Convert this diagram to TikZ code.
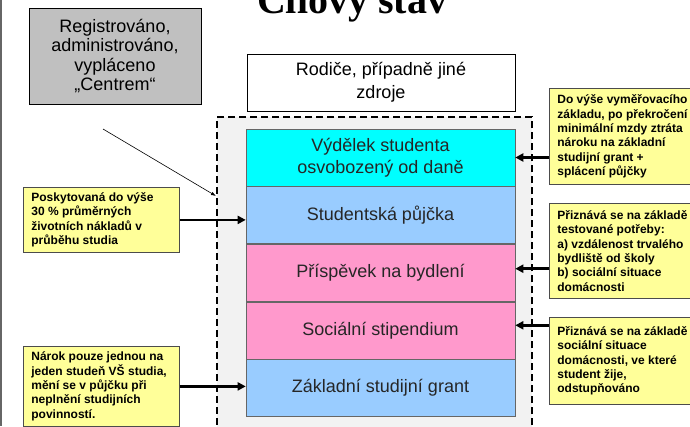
\documentclass[tikz,border=0pt]{standalone}
\usepackage{fontspec}
\setmainfont{Liberation Sans}
\newfontfamily\nadpisfont{Liberation Serif}
\usetikzlibrary{positioning,arrows.meta,calc}
\definecolor{seda}{HTML}{C0C0C0}
\definecolor{tyrkys}{HTML}{00FFFF}
\definecolor{modra}{HTML}{99CCFF}
\definecolor{ruzova}{HTML}{FF99CC}
\definecolor{zluta}{HTML}{FFFF99}

\begin{document}
\begin{tikzpicture}[x=1pt,y=-1pt]
\tikzstyle{rada}=[draw=black!60, line width=0.6pt, minimum width=269pt, minimum height=57pt, inner sep=0pt, align=center, text=black!85, font=\fontsize{18}{22}\selectfont]
\tikzstyle{poznamka}=[draw=black!70, fill=zluta, line width=0.8pt, anchor=north west, text width=140pt, inner xsep=8pt, inner ysep=4pt, align=flush left, font=\fontsize{12}{14.3}\selectfont\bfseries]
\tikzstyle{sipka}=[line width=2.5pt, -{Triangle[length=8pt,width=8pt]}]
\clip (0,0) rectangle (690,426);

\draw[black!60, line width=1.5pt] (1,0) -- (1,426);
\node[font=\nadpisfont\fontsize{40}{44}\selectfont\bfseries, anchor=base] (nadpis) at (352,13) {Cílový stav};

\node[draw, fill=seda, minimum width=172pt, minimum height=96pt, align=center, font=\fontsize{18}{19.5}\selectfont] (centrum) at (115,56) {Registrováno,\\administrováno,\\vypláceno\\„Centrem“};
\node[draw, fill=white, minimum width=268pt, minimum height=57pt, align=center, font=\fontsize{18}{23}\selectfont] (zdroje) at (381,82.5) {Rodiče, případně jiné\\zdroje};

\node[draw, line width=2pt, dash pattern=on 7pt off 4pt, fill=black!5, minimum width=315pt, minimum height=323pt] (ramec) at (374.5,278.5) {};

\node[rada, fill=tyrkys] (vydelek) at (380.5,157.5) {Výdělek studenta\\osvobozený od daně};
\node[rada, fill=modra, below=0pt of vydelek] (pujcka) {Studentská půjčka};
\node[rada, fill=ruzova, below=0pt of pujcka] (bydleni) {Příspěvek na bydlení};
\node[rada, fill=ruzova, below=0pt of bydleni] (stipendium) {Sociální stipendium};
\node[rada, fill=modra, below=0pt of stipendium] (grant) {Základní studijní grant};

\node[poznamka, minimum height=65pt] (npujcka) at (23,187) {Poskytovaná do výše\\30 \% průměrných\\životních nákladů v\\průběhu studia};
\node[poznamka, minimum height=80pt] (ngrant) at (23,346) {Nárok pouze jednou na\\jeden studeň VŠ studia,\\mění se v půjčku při\\neplnění studijních\\povinností.};
\node[poznamka, minimum height=96pt] (nvydelek) at (549,88) {Do výše vyměřovacího\\základu, po překročení\\minimální mzdy ztráta\\nároku na základní\\studijní grant +\\splácení půjčky};
\node[poznamka, minimum height=95pt] (nbydleni) at (549,203) {Přiznává se na základě\\testované potřeby:\\a) vzdálenost trvalého\\bydliště od školy\\b) sociální situace\\domácnosti};
\node[poznamka, minimum height=87pt] (nstipendium) at (549,317) {Přiznává se na základě\\sociální situace\\domácnosti, ve které\\student žije,\\odstupňováno};

\coordinate (odkaz) at (103,129);
\draw[line width=0.6pt, -{Latex[length=5pt,width=3.5pt]}] (odkaz) -- ($(ramec.north west)+(0,80)$);

\draw[sipka] (npujcka.east) -- (npujcka.east -| pujcka.west);
\draw[sipka] (ngrant.east) -- (ngrant.east -| grant.west);
\draw[sipka] (nvydelek.west |- vydelek.east) -- (vydelek.east);
\draw[sipka] ($(nbydleni.west |- bydleni.east)+(0,-4)$) -- ($(bydleni.east)+(0,-4)$);
\draw[sipka] ($(nstipendium.west |- stipendium.east)+(0,-5)$) -- ($(stipendium.east)+(0,-5)$);

\end{tikzpicture}
\end{document}
